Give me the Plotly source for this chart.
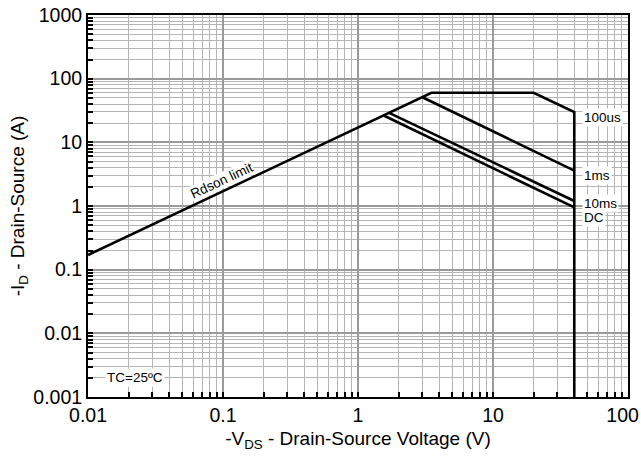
import math
import plotly.graph_objects as go

# ---- data ----
limit_v = [0.01, 3.5, 20, 40, 40]
limit_i = [0.17, 60, 60, 30, 0.001]
ms1_v = [3.0, 40]
ms1_i = [51, 3.6]
ms10_v = [1.7, 40]
ms10_i = [29, 1.2]
dc_v = [1.55, 40]
dc_i = [26.4, 0.95]

x_tick_vals = [0.01, 0.1, 1, 10, 100]
x_tick_text = ["0.01", "0.1", "1", "10", "100&nbsp;&nbsp;"]
y_tick_vals = [0.001, 0.01, 0.1, 1, 10, 100, 1000]
y_tick_text = ["0.001", "0.01", "0.1", "1", "10", "100", "1000"]

curve_labels = ["100us", "1ms", "10ms", "DC"]
curve_label_y = [24.4, 2.96, 1.11, 0.65]

def minor_vals(decades):
    out = []
    for d in decades:
        for m in range(2, 10):
            out.append(m * d)
    return out

x_minor = minor_vals([0.01, 0.1, 1, 10])
y_minor = minor_vals([0.001, 0.01, 0.1, 1, 10, 100])

fig = go.Figure()
line_style = dict(color="black", width=2.6)
for xs, ys in [(limit_v, limit_i), (ms1_v, ms1_i), (ms10_v, ms10_i), (dc_v, dc_i)]:
    fig.add_trace(go.Scatter(x=xs, y=ys, mode="lines", line=line_style,
                             showlegend=False, hoverinfo="skip"))

font_family = "Liberation Sans, Arial, sans-serif"
L = math.log10
for lab, ly in zip(curve_labels, curve_label_y):
    fig.add_annotation(x=L(45.5), y=L(ly), xref="x", yref="y", text=lab, showarrow=False,
                       xanchor="left", yanchor="middle", bgcolor="white",
                       font=dict(family=font_family, size=13.5, color="black"), borderpad=1)

fig.add_annotation(x=L(0.0978), y=L(2.56), text="Rdson limit", showarrow=False, textangle=-25,
                   bgcolor="white", font=dict(family=font_family, size=13.5, color="black"),
                   borderpad=0)
fig.add_annotation(x=L(0.0134), y=L(0.00206), text="TC=25ºC", showarrow=False,
                   xanchor="left", bgcolor="white",
                   font=dict(family=font_family, size=13.5, color="black"), borderpad=1)

axis_common = dict(
    type="log", showline=True, linecolor="black", linewidth=2, mirror=True,
    ticks="inside", ticklen=5, tickwidth=1.5, tickcolor="black",
    showgrid=True, gridcolor="#9a9a9a", gridwidth=1.5,
    tickfont=dict(family=font_family, size=19.5, color="black"),
    zeroline=False, automargin=False, ticklabeloverflow="allow",
)

fig.update_xaxes(**axis_common, range=[-2, 2], tickmode="array",
                 tickvals=x_tick_vals, ticktext=x_tick_text,
                 minor=dict(tickmode="array", tickvals=x_minor, ticks="inside", ticklen=5,
                            tickcolor="black", tickwidth=1.5, showgrid=True,
                            gridcolor="#b4b4b4", gridwidth=1),
                 title=dict(text="-V<sub>DS</sub> - Drain-Source Voltage (V)",
                            font=dict(family=font_family, size=19, color="black"),
                            standoff=6))
fig.update_yaxes(**axis_common, range=[-3, 3], tickmode="array",
                 tickvals=y_tick_vals, ticktext=y_tick_text,
                 minor=dict(tickmode="array", tickvals=y_minor, ticks="inside", ticklen=5,
                            tickcolor="black", tickwidth=1.5, showgrid=True,
                            gridcolor="#b4b4b4", gridwidth=1),
                 title=dict(text="-I<sub>D</sub> - Drain-Source (A)",
                            font=dict(family=font_family, size=19, color="black"),
                            standoff=4))

fig.update_layout(
    width=641, height=459,
    margin=dict(l=88, r=13, t=15, b=62),
    plot_bgcolor="white", paper_bgcolor="white",
    showlegend=False,
)

# remove the page's default 8px body margin so the figure sits at (0, 0)
fig.write_html("out.html", config={"displayModeBar": False},
               post_script="document.body.style.margin='0';")
